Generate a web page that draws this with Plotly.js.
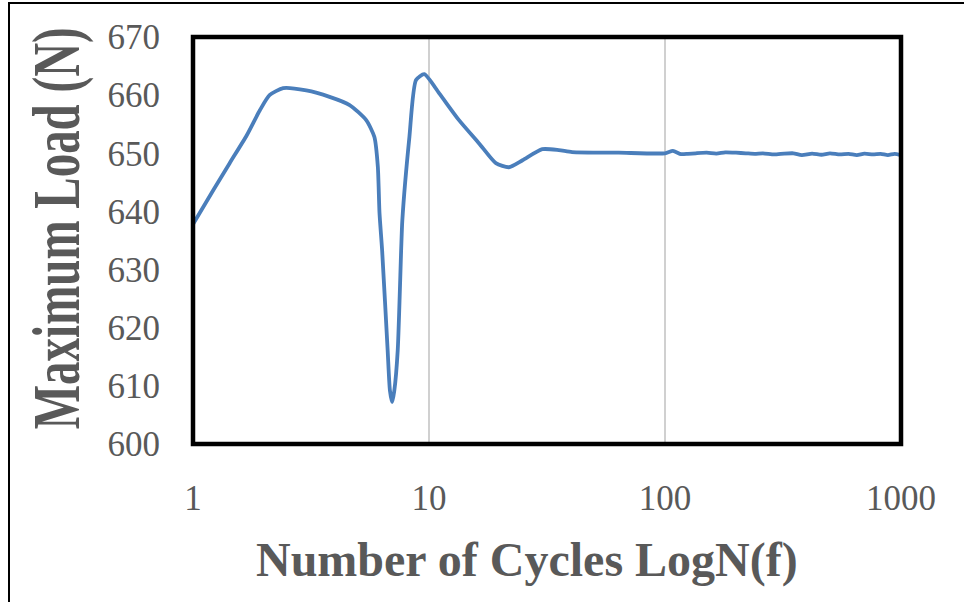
<!DOCTYPE html>
<html>
<head>
<meta charset="utf-8">
<script src="https://cdn.plot.ly/plotly-3.0.1.min.js"></script>
<style>
  html, body { margin: 0; padding: 0; background: #fff; }
  #wrap { position: relative; width: 964px; height: 602px; overflow: hidden; }
  #chart { width: 964px; height: 602px; }
  #border { position: absolute; left: 8px; top: 2px; width: 980px; height: 640px;
            border-left: 2px solid #000; border-top: 2px solid #000; pointer-events: none; }
</style>
</head>
<body>
<div id="wrap">
  <div id="chart"></div>
  <div id="border"></div>
</div>
<script>
// Number of cycles (log scale) and maximum load (N)
const cycles = [1, 1.22, 1.43, 1.69, 1.92, 2.11, 2.41, 3.02, 3.79, 4.61, 5.42, 5.87, 6.07, 6.17, 6.33, 6.68, 6.83, 6.98, 7.13, 7.37, 7.62, 7.71, 8.26, 8.81, 9.55, 11.05, 13.4, 16.3, 19.2, 21.8, 24.9, 30.2, 35.5, 40.4, 63.7,
  100, 108, 117, 125, 135, 150, 165, 180, 200, 220, 240, 260, 290, 320, 350, 380, 420, 460, 500, 550, 600, 650, 700, 760, 820, 880, 940, 1000];
const maxLoad = [637.8, 643.7, 648.3, 653.1, 657.4, 660.0, 661.2, 660.8, 659.7, 658.3, 655.7, 652.8, 647.7, 639.7, 633.3, 616.1, 609.2, 607.2, 609.2, 616.1, 633.3, 638.5, 652.8, 662.6, 663.6, 660.3, 655.7, 651.7, 648.3, 647.6, 648.8, 650.7, 650.55, 650.2, 650.1,
  650.0, 650.4, 649.85, 649.9, 650.0, 650.1, 649.95, 650.15, 650.1, 650.0, 649.9, 650.0, 649.8, 649.95, 650.0, 649.7, 649.95, 649.75, 650.0, 649.8, 649.9, 649.7, 649.95, 649.8, 649.9, 649.7, 649.9, 649.7];
const xTickVals = [1, 10, 100, 1000];
const xTickText = ['1', '10', '100', '1000'];
const yTickVals = [600, 610, 620, 630, 640, 650, 660, 670];
const xTitle = 'Number of Cycles LogN(f)';
const yTitle = 'Maximum Load (N)';

const trace = {
  x: cycles,
  y: maxLoad,
  type: 'scatter',
  mode: 'lines',
  line: { color: '#4a7ebb', width: 3.8, shape: 'spline', smoothing: 0.6 },
  hoverinfo: 'skip'
};

const serif = 'Liberation Serif, Times New Roman, serif';
const tickFont = { family: serif, size: 35, color: '#595959' };
const titleFont = { family: serif, size: 48, color: '#595959', weight: 'bold' };

const layout = {
  width: 964,
  height: 602,
  margin: { l: 193, r: 63, t: 37, b: 158 },
  paper_bgcolor: '#fff',
  plot_bgcolor: '#fff',
  showlegend: false,
  xaxis: {
    type: 'log',
    range: [0, 3],
    tickvals: xTickVals,
    ticktext: xTickText,
    tickfont: tickFont,
    ticks: '',
    ticklabelstandoff: 30,
    showgrid: true,
    gridcolor: '#d0d0d0',
    gridwidth: 2,
    zeroline: false,
    showline: false
  },
  yaxis: {
    range: [600, 670],
    tickvals: yTickVals,
    tickfont: tickFont,
    ticks: '',
    ticklabelstandoff: 32,
    showgrid: false,
    zeroline: false,
    showline: false
  },
  annotations: [
    { text: '<b>' + xTitle + '</b>', xref: 'paper', yref: 'paper', x: 0.4718, y: -0.285,
      xanchor: 'center', yanchor: 'middle', showarrow: false, font: titleFont },
    { text: '<b>' + yTitle + '</b>', xref: 'paper', yref: 'paper', x: -0.1935, y: 0.530,
      xanchor: 'center', yanchor: 'middle', showarrow: false, textangle: -90,
      font: { family: serif, size: 47, color: '#595959', weight: 'bold' } }
  ],
  shapes: [{
    type: 'rect', xref: 'paper', yref: 'paper', x0: 0, x1: 1, y0: 0, y1: 1,
    line: { color: '#000', width: 4.5 }, fillcolor: 'rgba(0,0,0,0)', layer: 'above'
  }]
};

Plotly.newPlot('chart', [trace], layout, { displayModeBar: false, staticPlot: true }).then(function (gd) {
  // the reference's vertical title is drawn stretched across its glyph height
  const anns = gd.querySelectorAll('.annotation');
  const g = anns[1];
  if (g) {
    const bb = g.getBBox();
    const cx = bb.x + bb.width / 2, cy = bb.y + bb.height / 2;
    const prev = g.getAttribute('transform') || '';
    g.setAttribute('transform', 'translate(' + cx + ',' + cy + ') scale(1.45,1) translate(' + (-cx) + ',' + (-cy) + ') ' + prev);
  }
});
</script>
</body>
</html>
